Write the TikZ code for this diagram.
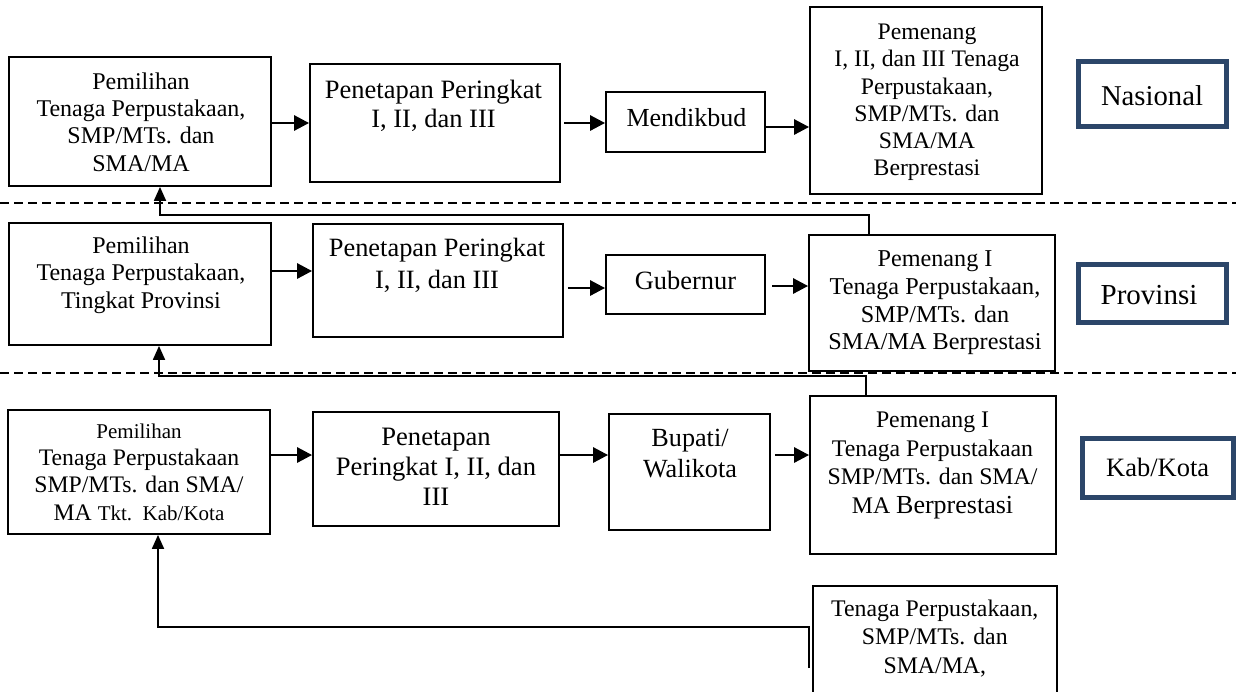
\documentclass[tikz,border=0pt]{standalone}
\usepackage{fontspec}
\setmainfont{Liberation Serif}
\usetikzlibrary{arrows.meta}
\definecolor{navy}{RGB}{44,70,105}
\newcommand\myfs[2]{\fontsize{#1}{#2}\selectfont}
\begin{document}
\begin{tikzpicture}[x=1pt,y=-1pt,
  box/.style={draw, line width=1.8pt, inner sep=0pt},
  lbl/.style={draw=navy, line width=5pt, inner sep=0pt},
  txt/.style={align=center, inner sep=0pt},
  flow/.style={line width=2.8pt, -{Triangle[length=15pt,width=15pt]}},
  back/.style={line width=1.8pt, -{Triangle[length=14pt,width=12pt]}},
  sep/.style={line width=1.8pt, dash pattern=on 9pt off 5pt}]
\useasboundingbox (0,0) rectangle (1236,691);
\clip (0,0) rectangle (1236,691);

% separators
\draw[sep] (0,203) -- (1236,203);
\draw[sep] (0,373) -- (1236,373);

% ---- Nasional row
\node[box, minimum width=262pt, minimum height=129pt] (a1) at (140,121.5) {};
\node[box, minimum width=250pt, minimum height=118pt] (b1) at (435,123) {};
\node[box, minimum width=159pt, minimum height=60pt] (c1) at (685.5,122) {};
\node[box, minimum width=232pt, minimum height=187pt] (d1) at (926,100.5) {};
\node[lbl, minimum width=148pt, minimum height=65pt] (n1) at (1152.5,94) {};

\node[txt, font=\myfs{24}{27.4}] (a1t) at (141,122) {Pemilihan\\Tenaga Perpustakaan,\\SMP/MTs. dan\\SMA/MA};
\node[txt, font=\myfs{26.5}{28.3}] (b1t) at (433.5,105.7) {Penetapan Peringkat\\I, II, dan III};
\node[txt, font=\myfs{26}{28}] (c1t) at (686.5,118) {Mendikbud};
\node[txt, font=\myfs{23.7}{27.1}] (d1t) at (927,102.4) {Pemenang\\I, II, dan III Tenaga\\Perpustakaan,\\SMP/MTs. dan\\SMA/MA\\Berprestasi};
\node[txt, font=\myfs{28.7}{30}] (n1t) at (1152,95.5) {Nasional};

% ---- Provinsi row
\node[box, minimum width=262pt, minimum height=122pt] (a2) at (140,284) {};
\node[box, minimum width=250pt, minimum height=113pt] (b2) at (438,280.5) {};
\node[box, minimum width=159pt, minimum height=59pt] (c2) at (685.5,284.5) {};
\node[box, minimum width=246pt, minimum height=136pt] (d2) at (932,303) {};
\node[lbl, minimum width=148pt, minimum height=58pt] (n2) at (1152.5,293.5) {};

\node[txt, font=\myfs{24}{27.5}] (a2t) at (141,274.9) {Pemilihan\\Tenaga Perpustakaan,\\Tingkat Provinsi};
\node[txt, font=\myfs{26.4}{32}] (b2t) at (437,265.7) {Penetapan Peringkat\\I, II, dan III};
\node[txt, font=\myfs{26.4}{28}] (c2t) at (685.5,280.5) {Gubernur};
\node[txt, font=\myfs{24.2}{27.7}] (d2t) at (935,302.9) {Pemenang I\\Tenaga Perpustakaan,\\SMP/MTs. dan\\SMA/MA Berprestasi};
\node[txt, font=\myfs{29}{30}] (n2t) at (1149,295) {Provinsi};

% ---- Kab/Kota row
\node[box, minimum width=262pt, minimum height=124pt] (a3) at (139,472) {};
\node[box, minimum width=246pt, minimum height=114pt] (b3) at (436,469) {};
\node[box, minimum width=161pt, minimum height=116pt] (c3) at (689.5,472) {};
\node[box, minimum width=246pt, minimum height=158pt] (d3) at (933,475) {};
\node[lbl, minimum width=151pt, minimum height=59pt] (n3) at (1158,468) {};
\node[box, minimum width=244pt, minimum height=114pt] (e) at (935,643) {};

\node[txt, font=\myfs{23.7}{27.3}] (a3t) at (139,472) {{\myfs{21}{27.3}Pemilihan}\\Tenaga Perpustakaan\\SMP/MTs. dan SMA/\\MA {\myfs{21}{27.3}Tkt.\ \ Kab/Kota}};
\node[txt, font=\myfs{26.6}{30}] (b3t) at (436,467) {Penetapan\\Peringkat I, II, dan\\III};
\node[txt, font=\myfs{26.2}{31}] (c3t) at (690,453.5) {Bupati/\\Walikota};
\node[txt, font=\myfs{23.8}{28.7}] (d3t) at (932.5,465.6) {Pemenang I\\Tenaga Perpustakaan\\SMP/MTs. dan SMA/\\MA {\myfs{26}{28.7}Berprestasi}};
\node[txt, font=\myfs{26.5}{28}] (n3t) at (1157.7,467.5) {Kab/Kota};
\node[txt, font=\myfs{23.8}{28.5}] (et) at (934.8,638.2) {Tenaga Perpustakaan,\\SMP/MTs. dan\\SMA/MA,};

% ---- flow arrows
\coordinate (p1) at ([yshift=-1.5pt]a1.east);
\draw[flow] (p1) -- (p1 -| b1.west);
\coordinate (p2) at ([xshift=3.5pt]b1.east);
\draw[flow] (p2) -- (p2 -| c1.west);
\coordinate (p3) at ([yshift=-5pt]c1.east);
\draw[flow] (p3) -- (p3 -| d1.west);

\coordinate (p4) at ([yshift=13pt]a2.east);
\draw[flow] (p4) -- (p4 -| b2.west);
\coordinate (p5) at ([xshift=4pt,yshift=-7.5pt]b2.east);
\draw[flow] (p5) -- (p5 -| c2.west);
\coordinate (p6) at ([xshift=6.5pt,yshift=-1.5pt]c2.east);
\draw[flow] (p6) -- (p6 -| d2.west);

\coordinate (p7) at ([yshift=17pt]a3.east);
\draw[flow] (p7) -- (p7 -| b3.west);
\coordinate (p8) at ([yshift=14pt]b3.east);
\draw[flow] (p8) -- (p8 -| c3.west);
\coordinate (p9) at ([xshift=4pt,yshift=17pt]c3.east);
\draw[flow] (p9) -- (p9 -| d3.west);

% ---- feedback connectors
\draw[back] ([xshift=-63.3pt]d2.north) -- ++(0,-19) -| ([xshift=20pt]a1.south);
\draw[back] ([xshift=-67pt]d3.north) -- ++(0,-19) -| ([xshift=19pt]a2.south);
\coordinate (es) at ([xshift=-3pt,yshift=-25pt]e.west);
\draw[back] (es) -- ++(0,-41) -| ([xshift=19pt]a3.south);
\end{tikzpicture}
\end{document}
